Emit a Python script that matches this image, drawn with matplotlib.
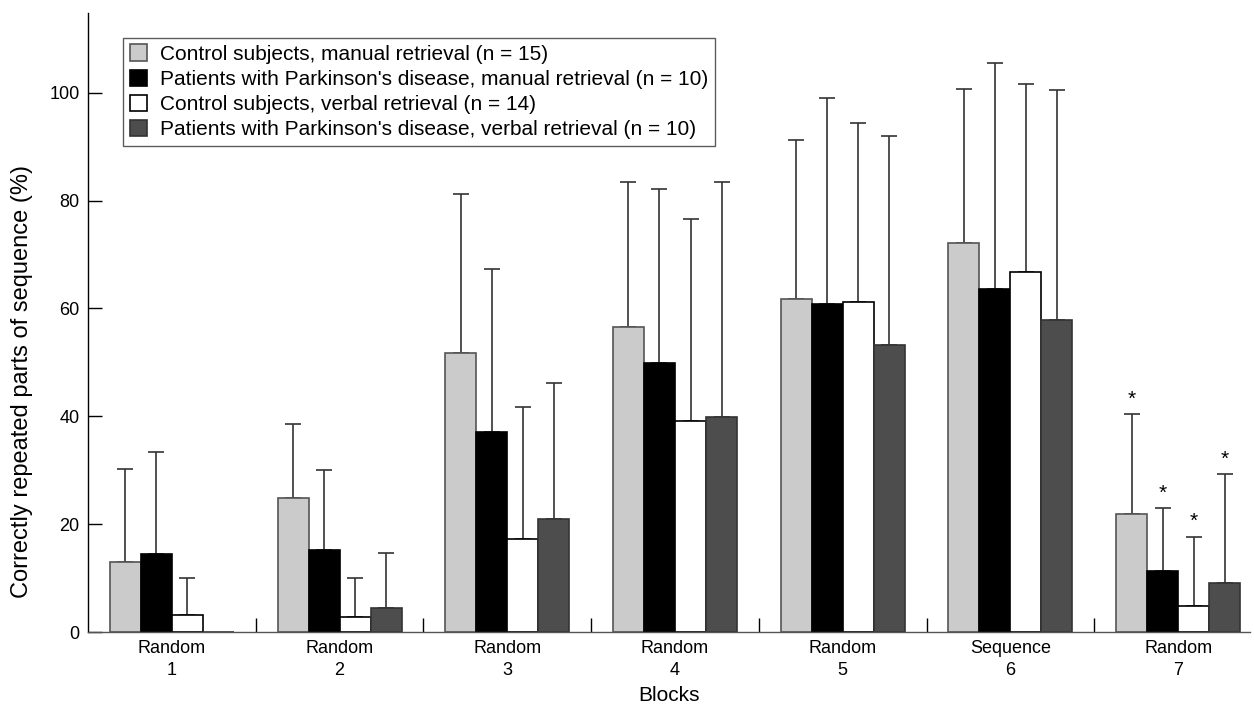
import numpy as np
import matplotlib
matplotlib.use("Agg")
import matplotlib.pyplot as plt

plt.rcParams['font.family'] = ['Liberation Sans', 'DejaVu Sans']

# Blocks and group labels
blocks = ["Random\n1", "Random\n2", "Random\n3", "Random\n4",
          "Random\n5", "Sequence\n6", "Random\n7"]

series_labels = [
    "Control subjects, manual retrieval (n = 15)",
    "Patients with Parkinson's disease, manual retrieval (n = 10)",
    "Control subjects, verbal retrieval (n = 14)",
    "Patients with Parkinson's disease, verbal retrieval (n = 10)",
]

# means (%)
ctrl_manual = [13.0, 24.8, 51.7, 56.5, 61.7, 72.2, 21.8]
pd_manual = [14.4, 15.2, 37.1, 49.8, 60.8, 63.6, 11.4]
ctrl_verbal = [3.1, 2.8, 17.3, 39.1, 61.2, 66.7, 4.8]
pd_verbal = [0.0, 4.5, 21.0, 39.8, 53.3, 57.9, 9.1]

# upper end of the error bars (mean + SD)
ctrl_manual_top = [30.3, 38.5, 81.3, 83.4, 91.2, 100.7, 40.4]
pd_manual_top = [33.4, 30.0, 67.3, 82.2, 99.0, 105.5, 23.0]
ctrl_verbal_top = [10.1, 10.1, 41.8, 76.6, 94.4, 101.6, 17.7]
pd_verbal_top = [None, 14.6, 46.2, 83.4, 92.0, 100.5, 29.3]

# significance stars (block 7 only)
star_block = 6

means = [ctrl_manual, pd_manual, ctrl_verbal, pd_verbal]
tops = [ctrl_manual_top, pd_manual_top, ctrl_verbal_top, pd_verbal_top]
colors = ["#cbcbcb", "#000000", "#ffffff", "#4d4d4d"]
edges = ["#555555", "#000000", "#000000", "#333333"]

fig = plt.figure(figsize=(12.54, 7.06), dpi=100)
ax = fig.add_axes([0.0702, 0.1048, 0.9268, 0.8768])

x = np.arange(len(blocks))
w = 0.185
for i in range(4):
    pos = x + (i - 1.5) * w
    ax.bar(pos, means[i], w, color=colors[i], edgecolor=edges[i],
           linewidth=1.2, label=series_labels[i], zorder=2)
    for j in range(len(blocks)):
        if tops[i][j] is None:
            continue
        ax.errorbar(pos[j], means[i][j], yerr=[[0], [tops[i][j] - means[i][j]]],
                    fmt='none', ecolor='#333333', elinewidth=1.2,
                    capsize=6, capthick=1.2, zorder=1)
        if j == star_block:
            ax.text(pos[j], tops[i][j] + 1.0, "*", ha='center', va='bottom',
                    fontsize=15)

ax.set_xlim(-0.5, 6.43)
ax.set_ylim(0, 114.8)
ax.set_yticks([0, 20, 40, 60, 80, 100])
ax.tick_params(axis='y', direction='in', length=10, width=1, labelsize=13, pad=6)
ax.set_xticks(x)
ax.set_xticklabels(blocks, fontsize=13, linespacing=1.35)
ax.tick_params(axis='x', which='major', length=0, pad=6)
ax.set_xticks(x[:-1] + 0.5, minor=True)
ax.tick_params(axis='x', which='minor', direction='in', length=10, width=1)

for s in ['top', 'right']:
    ax.spines[s].set_visible(False)
ax.spines['left'].set_linewidth(1)
ax.spines['bottom'].set_linewidth(1)
ax.spines['bottom'].set_color('#555555')

ax.set_ylabel("Correctly repeated parts of sequence (%)", fontsize=17)
ax.yaxis.set_label_coords(-0.047, 0.404)
ax.set_xlabel("Blocks", fontsize=15, labelpad=5)

leg = ax.legend(loc='upper left', bbox_to_anchor=(0.030, 0.96), borderaxespad=0,
                fontsize=15, frameon=True, fancybox=False, edgecolor='#333333',
                handlelength=0.85, handleheight=0.85, handletextpad=0.6,
                labelspacing=0.27, borderpad=0.32)
leg.get_frame().set_linewidth(1)

fig.savefig("out.png", dpi=100)
